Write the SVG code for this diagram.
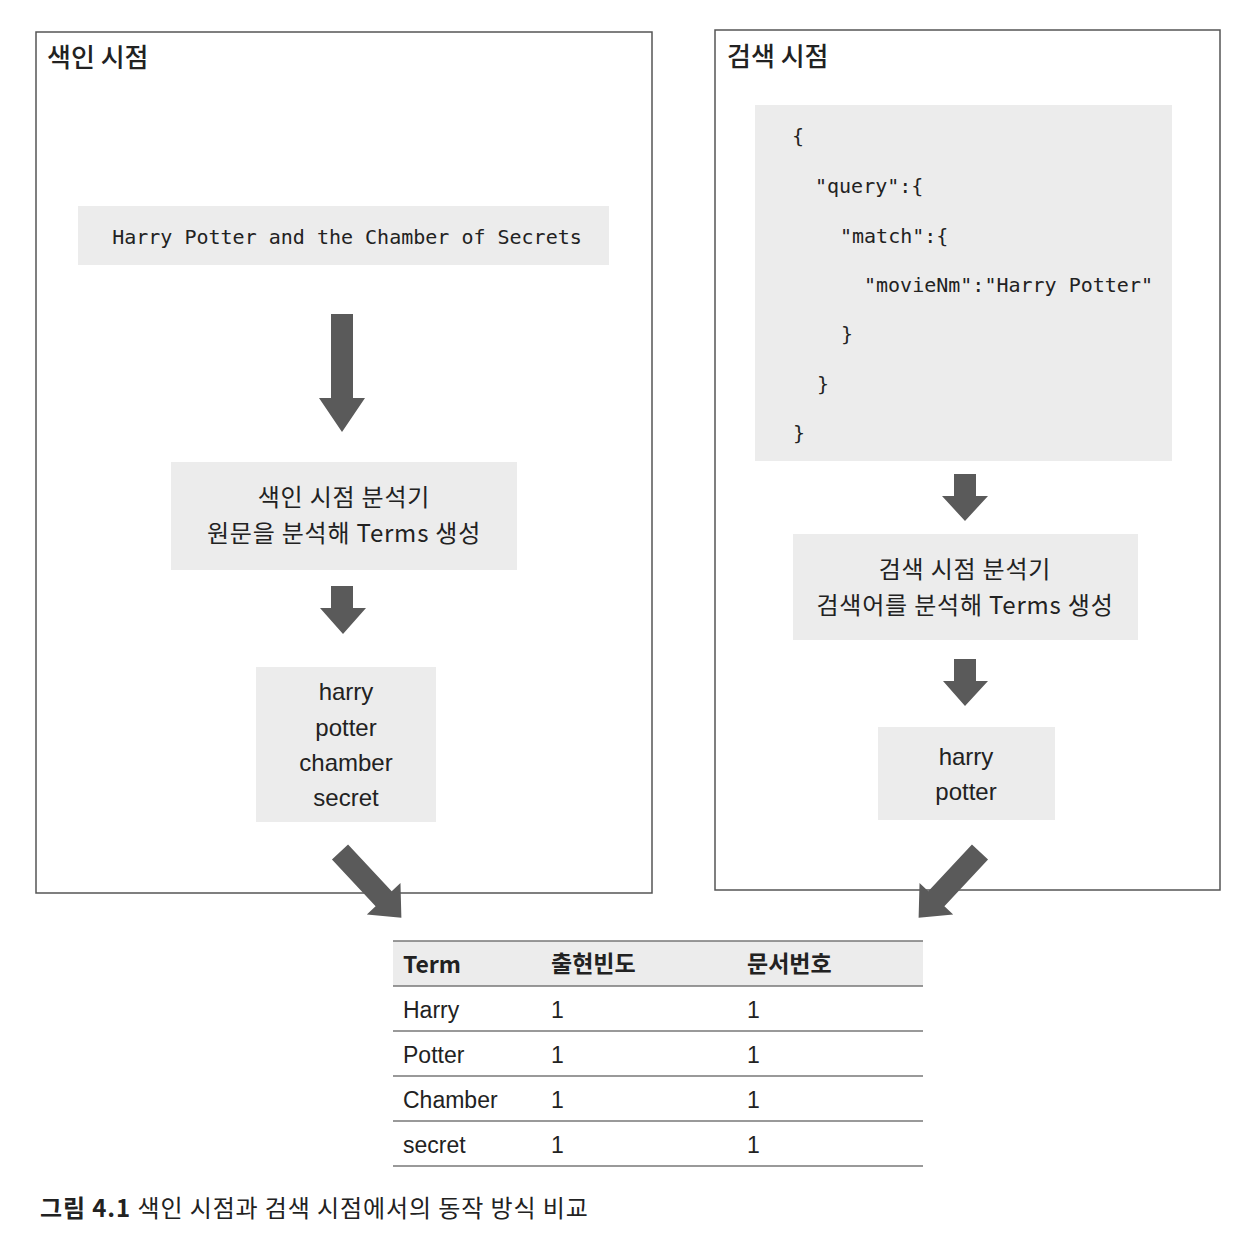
<svg xmlns="http://www.w3.org/2000/svg" width="1260" height="1240" viewBox="0 0 1260 1240">
<defs>
<style>
.panel{fill:#fff;stroke:#555;stroke-width:1.5}
.box{fill:#ececec}
.ko{font-family:"Noto Sans CJK KR","Liberation Sans",sans-serif;fill:#222}
.lat{font-family:"Liberation Sans","Noto Sans CJK KR",sans-serif;fill:#222}
.mono{font-family:"DejaVu Sans Mono","Liberation Mono",monospace;font-size:20px;fill:#222}
.title{font-size:26px;font-weight:500}
.mid{font-size:24px;text-anchor:middle}
.arrow{fill:#5a5a5a}
.tl{stroke:#777;stroke-width:1.5}
.cell{font-size:23px}
</style>
<path id="arr" d="M0,-11 L64,-11 L64,-23 L90,0 L64,23 L64,11 L0,11 Z"/>
</defs>
<rect width="1260" height="1240" fill="#fff"/>

<g id="panel-index">
<rect class="panel" x="36" y="32" width="616" height="861"/>
<text class="ko title" x="47" y="67">색인 시점</text>
</g>
<g id="panel-search">
<rect class="panel" x="715" y="30" width="505" height="860"/>
<text class="ko title" x="727" y="66">검색 시점</text>
</g>

<g id="source-text">
<rect class="box" x="78" y="206" width="531" height="59"/>
<text class="mono" x="347" y="244" text-anchor="middle">Harry Potter and the Chamber of Secrets</text>
</g>

<g id="index-analyzer">
<rect class="box" x="171" y="462" width="346" height="108"/>
<text class="ko mid" x="344" y="506" letter-spacing="0.8">색인 시점 분석기</text>
<text class="ko mid" x="344" y="542" letter-spacing="0.8">원문을 분석해 Terms 생성</text>
</g>

<g id="index-terms">
<rect class="box" x="256" y="667" width="180" height="155"/>
<text class="lat mid" x="346" y="700">harry</text>
<text class="lat mid" x="346" y="736">potter</text>
<text class="lat mid" x="346" y="771">chamber</text>
<text class="lat mid" x="346" y="806">secret</text>
</g>

<g id="query-json">
<rect class="box" x="755" y="105" width="417" height="356"/>
<text class="mono" x="792" y="143">{</text>
<text class="mono" x="815" y="193">"query":{</text>
<text class="mono" x="840" y="243">"match":{</text>
<text class="mono" x="864" y="292">"movieNm":"Harry Potter"</text>
<text class="mono" x="841" y="341">}</text>
<text class="mono" x="817" y="391">}</text>
<text class="mono" x="793" y="440">}</text>
</g>

<g id="search-analyzer">
<rect class="box" x="793" y="534" width="345" height="106"/>
<text class="ko mid" x="965" y="578" letter-spacing="0.8">검색 시점 분석기</text>
<text class="ko mid" x="965" y="614" letter-spacing="0.8">검색어를 분석해 Terms 생성</text>
</g>

<g id="search-terms">
<rect class="box" x="878" y="727" width="177" height="93"/>
<text class="lat mid" x="966" y="765">harry</text>
<text class="lat mid" x="966" y="800">potter</text>
</g>

<g id="connectors">
<path class="arrow" d="M331,314 L353,314 L353,398 L365,398 L342,432 L319,398 L331,398 Z"/>
<path class="arrow" d="M331,586 L353,586 L353,608 L366,608 L343,634 L320,608 L331,608 Z"/>
<path class="arrow" d="M954,474 L976,474 L976,496 L988,496 L965,521 L942,496 L954,496 Z"/>
<path class="arrow" d="M954,659 L976,659 L976,681 L988,681 L965,706 L943,681 L954,681 Z"/>
<use href="#arr" class="arrow" transform="translate(340,852) rotate(47)"/>
<use href="#arr" class="arrow" transform="translate(980,852) rotate(133)"/>
</g>

<g id="term-table">
<rect x="393" y="941" width="530" height="45" fill="#ececec"/>
<line class="tl" x1="393" y1="941" x2="923" y2="941" stroke-width="2.5"/>
<line class="tl" x1="393" y1="986" x2="923" y2="986"/>
<line class="tl" x1="393" y1="1031" x2="923" y2="1031"/>
<line class="tl" x1="393" y1="1076" x2="923" y2="1076"/>
<line class="tl" x1="393" y1="1121" x2="923" y2="1121"/>
<line class="tl" x1="393" y1="1166" x2="923" y2="1166"/>
<text class="ko cell" x="403" y="973" font-weight="bold">Term</text>
<text class="ko cell" x="551" y="972" font-weight="bold">출현빈도</text>
<text class="ko cell" x="747" y="972" font-weight="bold">문서번호</text>
<text class="lat cell" x="403" y="1018">Harry</text>
<text class="lat cell" x="551" y="1018">1</text>
<text class="lat cell" x="747" y="1018">1</text>
<text class="lat cell" x="403" y="1063">Potter</text>
<text class="lat cell" x="551" y="1063">1</text>
<text class="lat cell" x="747" y="1063">1</text>
<text class="lat cell" x="403" y="1108">Chamber</text>
<text class="lat cell" x="551" y="1108">1</text>
<text class="lat cell" x="747" y="1108">1</text>
<text class="lat cell" x="403" y="1153">secret</text>
<text class="lat cell" x="551" y="1153">1</text>
<text class="lat cell" x="747" y="1153">1</text>
</g>

<g id="caption">
<text class="ko" x="40" y="1217" font-size="24" letter-spacing="0.9"><tspan font-weight="bold">그림 4.1</tspan> 색인 시점과 검색 시점에서의 동작 방식 비교</text>
</g>
</svg>
